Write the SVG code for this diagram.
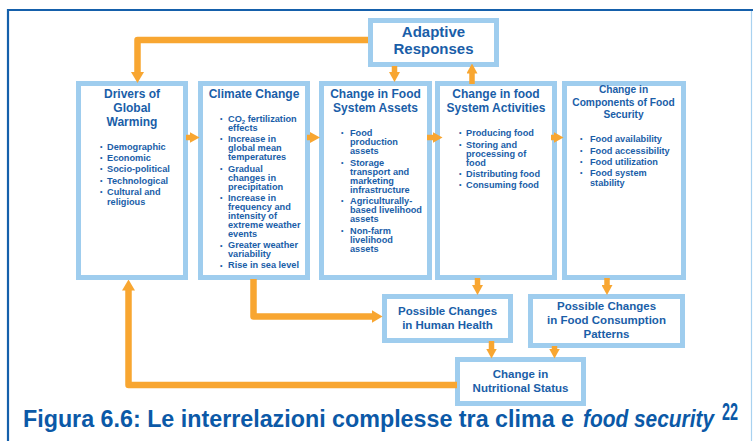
<svg xmlns="http://www.w3.org/2000/svg" width="753" height="441" viewBox="0 0 753 441">
  <style>
    .box { fill: #ffffff; stroke: #9fcdee; stroke-width: 5; }
    .t { font-family: "Liberation Sans", Arial, sans-serif; font-weight: bold; fill: #1a5ea8; }
    .title { font-size: 12px; text-anchor: middle; }
    .title-s { font-size: 10.2px; text-anchor: middle; }
    .title-l { font-size: 15px; text-anchor: middle; }
    .title-m { font-size: 11.5px; text-anchor: middle; }
    .item { font-size: 9.2px; }
    .dot { font-size: 7px; }
    .link { fill: none; stroke: #f8a631; stroke-width: 6.5; stroke-linejoin: round; marker-end: url(#head); }
    .link-s { fill: none; stroke: #f8a631; stroke-width: 5.5; marker-end: url(#head-s); }
    .cap { font-family: "Liberation Sans", Arial, sans-serif; font-weight: bold; fill: #0b59a7; font-size: 24px; }
  </style>
  <defs>
    <marker id="head" markerUnits="userSpaceOnUse" markerWidth="11" markerHeight="13" viewBox="0 0 11 13" refX="0.5" refY="6.5" orient="auto">
      <path d="M0,0 L11,6.5 L0,13 Z" fill="#f8a631"/>
    </marker>
    <marker id="head-s" markerUnits="userSpaceOnUse" markerWidth="10" markerHeight="11" viewBox="0 0 10 11" refX="0.5" refY="5.5" orient="auto">
      <path d="M0,0 L10,5.5 L0,11 Z" fill="#f8a631"/>
    </marker>
  </defs>

  <rect width="753" height="441" fill="#ffffff"/>

  <!-- page frame -->
  <g id="frame">
    <line x1="7" y1="10" x2="753" y2="10" stroke="#1560ab" stroke-width="2.2"/>
    <line x1="8" y1="9" x2="8" y2="441" stroke="#1560ab" stroke-width="2.2"/>
    <line x1="751.5" y1="11" x2="751.5" y2="441" stroke="#a9d2f0" stroke-width="1.2"/>
  </g>

  <g id="adaptive">
    <rect class="box" x="370.5" y="20.5" width="126" height="44"/>
    <text class="t title-l" x="433.5" y="37">Adaptive</text>
    <text class="t title-l" x="433.5" y="54">Responses</text>
  </g>

  <g id="drivers">
    <rect class="box" x="78.5" y="83.5" width="107" height="194"/>
    <text class="t title" x="132" y="98">Drivers of</text>
    <text class="t title" x="132" y="112">Global</text>
    <text class="t title" x="132" y="126">Warming</text>
    <g class="t dot">
      <text x="100" y="149">•</text><text x="100" y="160">•</text><text x="100" y="171">•</text>
      <text x="100" y="183">•</text><text x="100" y="194">•</text>
    </g>
    <g class="t item">
      <text x="107" y="150">Demographic</text>
      <text x="107" y="161">Economic</text>
      <text x="107" y="172">Socio-political</text>
      <text x="107" y="184">Technological</text>
      <text x="107" y="195">Cultural and</text>
      <text x="107" y="204.5">religious</text>
    </g>
  </g>

  <g id="climate">
    <rect class="box" x="200.5" y="83.5" width="107" height="194"/>
    <text class="t title" x="254" y="98">Climate Change</text>
    <g class="t dot">
      <text x="220" y="121">•</text><text x="220" y="141">•</text><text x="220" y="171">•</text>
      <text x="220" y="200">•</text><text x="220" y="247.5">•</text><text x="220" y="267.5">•</text>
    </g>
    <g class="t item">
      <text x="228" y="121.7">CO<tspan font-size="6" dy="1.8">2</tspan><tspan dy="-1.8"> fertilization</tspan></text>
      <text x="228" y="130.9">effects</text>
      <text x="228" y="141.7">Increase in</text>
      <text x="228" y="150.7">global mean</text>
      <text x="228" y="159.7">temperatures</text>
      <text x="228" y="171.7">Gradual</text>
      <text x="228" y="180.7">changes in</text>
      <text x="228" y="189.7">precipitation</text>
      <text x="228" y="200.7">Increase in</text>
      <text x="228" y="209.7">frequency and</text>
      <text x="228" y="218.7">intensity of</text>
      <text x="228" y="228">extreme weather</text>
      <text x="228" y="237">events</text>
      <text x="228" y="248.3">Greater weather</text>
      <text x="228" y="257.3">variability</text>
      <text x="228" y="268.3">Rise in sea level</text>
    </g>
  </g>

  <g id="assets">
    <rect class="box" x="321.5" y="83.5" width="108" height="194"/>
    <text class="t title" x="375.5" y="98">Change in Food</text>
    <text class="t title" x="375.5" y="112">System Assets</text>
    <g class="t dot">
      <text x="341" y="135">•</text><text x="341" y="165">•</text>
      <text x="341" y="203">•</text><text x="341" y="233">•</text>
    </g>
    <g class="t item">
      <text x="350" y="136">Food</text>
      <text x="350" y="145">production</text>
      <text x="350" y="153.5">assets</text>
      <text x="350" y="166">Storage</text>
      <text x="350" y="175">transport and</text>
      <text x="350" y="184">marketing</text>
      <text x="350" y="192.7">infrastructure</text>
      <text x="350" y="204">Agriculturally-</text>
      <text x="350" y="213.3">based livelihood</text>
      <text x="350" y="222.3">assets</text>
      <text x="350" y="233.7">Non-farm</text>
      <text x="350" y="242.7">livelihood</text>
      <text x="350" y="251.7">assets</text>
    </g>
  </g>

  <g id="activities">
    <rect class="box" x="437.5" y="83.5" width="117" height="194"/>
    <text class="t title" x="496" y="98">Change in food</text>
    <text class="t title" x="496" y="112">System Activities</text>
    <g class="t dot">
      <text x="459" y="135">•</text><text x="459" y="147.3">•</text>
      <text x="459" y="176">•</text><text x="459" y="186.7">•</text>
    </g>
    <g class="t item">
      <text x="466" y="136">Producing food</text>
      <text x="466" y="148.3">Storing and</text>
      <text x="466" y="157.1">processing of</text>
      <text x="466" y="165.9">food</text>
      <text x="466" y="177">Distributing food</text>
      <text x="466" y="187.7">Consuming food</text>
    </g>
  </g>

  <g id="components">
    <rect class="box" x="564.5" y="83.5" width="119" height="194"/>
    <text class="t title-s" x="623.5" y="93.3">Change in</text>
    <text class="t title-s" x="623.5" y="105.7">Components of Food</text>
    <text class="t title-s" x="623.5" y="118.3">Security</text>
    <g class="t dot">
      <text x="580" y="140.7">•</text><text x="580" y="152.7">•</text>
      <text x="580" y="163.7">•</text><text x="580" y="174.7">•</text>
    </g>
    <g class="t item">
      <text x="590" y="141.7">Food availability</text>
      <text x="590" y="153.7">Food accessibility</text>
      <text x="590" y="164.7">Food utilization</text>
      <text x="590" y="175.7">Food system</text>
      <text x="590" y="185.7">stability</text>
    </g>
  </g>

  <g id="health">
    <rect class="box" x="384.5" y="296.5" width="126" height="44"/>
    <text class="t title-m" x="447.5" y="315">Possible Changes</text>
    <text class="t title-m" x="447.5" y="329">in Human Health</text>
  </g>

  <g id="consumption">
    <rect class="box" x="530.5" y="296.5" width="152" height="49"/>
    <text class="t title-m" x="606.5" y="309.5">Possible Changes</text>
    <text class="t title-m" x="606.5" y="324">in Food Consumption</text>
    <text class="t title-m" x="606.5" y="338">Patterns</text>
  </g>

  <g id="nutrition">
    <rect class="box" x="457.5" y="359.5" width="126" height="44"/>
    <text class="t title-m" x="520.5" y="378">Change in</text>
    <text class="t title-m" x="520.5" y="392">Nutritional Status</text>
  </g>

  <!-- connectors -->
  <g id="connectors">
    <path class="link" d="M368,40 H137.5 V72.5"/>
    <path class="link-s" d="M186,137.5 H190"/>
    <path class="link-s" d="M307,137.5 H310.5"/>
    <path class="link-s" d="M427,137.5 H433"/>
    <path class="link-s" d="M551,137.5 H554"/>
    <path class="link-s" d="M394.5,66 V72.5"/>
    <path class="link-s" d="M472,84 V73"/>
    <path class="link" d="M253.5,279 V316.5 H372"/>
    <path class="link-s" d="M477.5,278 V285.5"/>
    <path class="link-s" d="M607,278 V285.5"/>
    <path class="link-s" d="M491.5,341 V349"/>
    <path class="link-s" d="M554.5,346 V349"/>
    <path class="link" d="M457,385 H128.5 V290"/>
  </g>

  <!-- caption -->
  <g id="caption">
    <text class="cap" x="23" y="427" textLength="551" lengthAdjust="spacingAndGlyphs">Figura 6.6: Le interrelazioni complesse tra clima e</text>
    <text class="cap" x="583" y="427" font-style="italic" textLength="131" lengthAdjust="spacingAndGlyphs">food security</text>
    <text class="cap" x="722" y="420" font-size="11" textLength="16" lengthAdjust="spacingAndGlyphs">22</text>
  </g>
</svg>
